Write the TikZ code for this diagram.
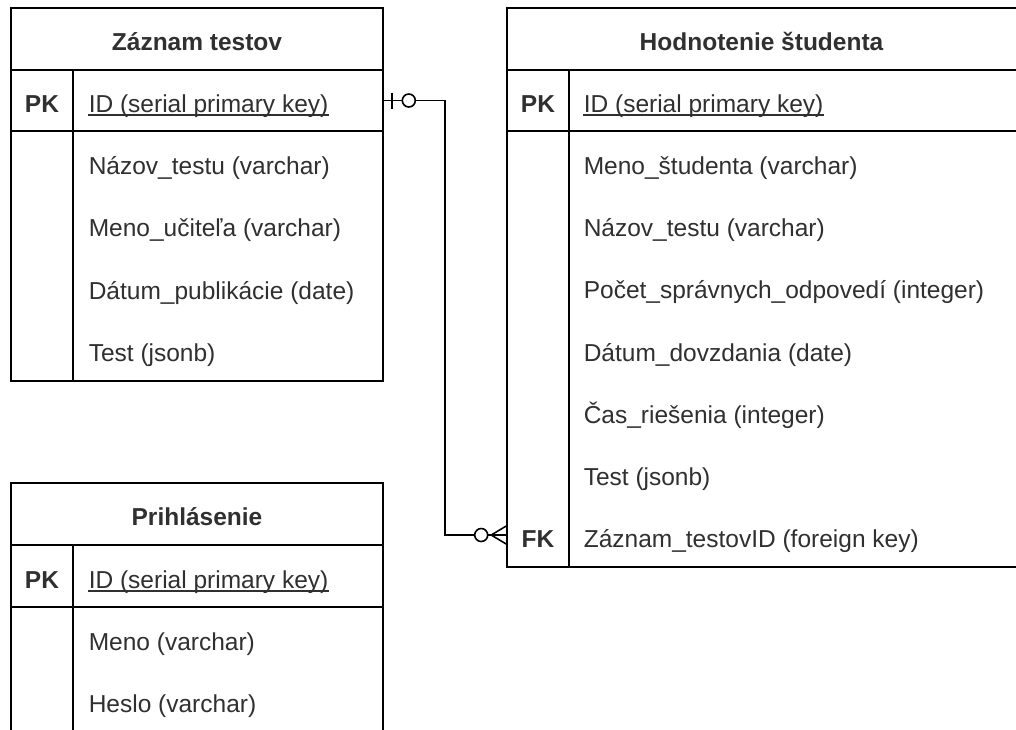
\documentclass[tikz,border=0pt]{standalone}
\usepackage{fontspec}
\setmainfont{Liberation Sans}
\definecolor{txt}{HTML}{303030}
\begin{document}
\begin{tikzpicture}[x=1pt,y=-1pt,
  line width=1.6pt,
  fieldtxt/.style={anchor=base west, inner sep=0pt, text=txt, font=\fontsize{24.5pt}{29pt}\selectfont},
  keytxt/.style={anchor=base, inner sep=0pt, text=txt, font=\fontsize{24.5pt}{29pt}\selectfont\bfseries},
  titletxt/.style={anchor=base, inner sep=0pt, text=txt, font=\fontsize{24.5pt}{29pt}\selectfont\bfseries},
  rowbox/.style={draw=none, inner sep=0pt, minimum height=61pt},
  ulineln/.style={line width=1.2pt, draw=txt}
]
\useasboundingbox (0,0) rectangle (1016,729);
\clip (0,0) rectangle (1016,729);
\fill[white] (0,0) rectangle (1016,729);

% ---------- Table 1: Záznam testov ----------
\draw (11,8) rectangle (383,381);
\draw (11,70) -- (383,70);
\draw (11,131) -- (383,131);
\draw (73,70) -- (73,381);
\node[rowbox, minimum width=372pt] (t1pk) at (197,100.5) {};
\node[titletxt] (t1title) at (197,50.5) {Záznam testov};
\node[keytxt] (t1pkl) at (42,112) {PK};
\node[fieldtxt] (t1id) at (88,112) {ID (serial primary key)};
\draw[ulineln] ([yshift=-3pt]t1id.base west) -- ([yshift=-3pt]t1id.base east);
\node[fieldtxt] (t1f1) at (88,174) {Názov\_testu (varchar)};
\node[fieldtxt] (t1f2) at (88,236.5) {Meno\_učiteľa (varchar)};
\node[fieldtxt] (t1f3) at (88,299) {Dátum\_publikácie (date)};
\node[fieldtxt] (t1f4) at (88,361.5) {Test (jsonb)};

% ---------- Table 2: Hodnotenie študenta ----------
\draw (507,8) rectangle (1040,567);
\draw (507,70) -- (1040,70);
\draw (507,131) -- (1040,131);
\draw (569,70) -- (569,567);
\node[rowbox, minimum width=509pt] (t2fk) at (761.5,535) {};
\node[titletxt] (t2title) at (761.5,50.5) {Hodnotenie študenta};
\node[keytxt] (t2pkl) at (538,112) {PK};
\node[fieldtxt] (t2id) at (583,112) {ID (serial primary key)};
\draw[ulineln] ([yshift=-3pt]t2id.base west) -- ([yshift=-3pt]t2id.base east);
\node[fieldtxt] (t2f1) at (583,174) {Meno\_študenta (varchar)};
\node[fieldtxt] (t2f2) at (583,236.4) {Názov\_testu (varchar)};
\node[fieldtxt] (t2f3) at (583,298.7) {Počet\_správnych\_odpovedí (integer)};
\node[fieldtxt] (t2f4) at (583,361) {Dátum\_dovzdania (date)};
\node[fieldtxt] (t2f5) at (583,423.3) {Čas\_riešenia (integer)};
\node[fieldtxt] (t2f6) at (583,485.6) {Test (jsonb)};
\node[keytxt] (t2fkl) at (538,547.5) {FK};
\node[fieldtxt] (t2f7) at (583,547.5) {Záznam\_testovID (foreign key)};

% ---------- Table 3: Prihlásenie ----------
\draw (11,483) rectangle (383,800);
\draw (11,545) -- (383,545);
\draw (11,607) -- (383,607);
\draw (73,545) -- (73,800);
\node[titletxt] (t3title) at (197,525.5) {Prihlásenie};
\node[keytxt] (t3pkl) at (42,588) {PK};
\node[fieldtxt] (t3id) at (88,588) {ID (serial primary key)};
\draw[ulineln] ([yshift=-3pt]t3id.base west) -- ([yshift=-3pt]t3id.base east);
\node[fieldtxt] (t3f1) at (88,650) {Meno (varchar)};
\node[fieldtxt] (t3f2) at (88,712) {Heslo (varchar)};

% ---------- Relationship ----------
\coordinate (elbow) at (445,100.5);
\draw (t1pk.east) -- (elbow) |- (t2fk.west);
% one (bar) + zero (circle) at the Záznam testov end
\draw ([xshift=8pt,yshift=8pt]t1pk.east) -- ([xshift=8pt,yshift=-8pt]t1pk.east);
\draw[fill=white] ([xshift=25pt]t1pk.east) circle[radius=6.5pt];
% zero (circle) + many (crow's foot) at the Hodnotenie študenta end
\draw[fill=white] ([xshift=-25pt]t2fk.west) circle[radius=6.5pt];
\draw ([xshift=-15pt]t2fk.west) -- ([yshift=9pt]t2fk.west);
\draw ([xshift=-15pt]t2fk.west) -- ([yshift=-9pt]t2fk.west);
\end{tikzpicture}
\end{document}
